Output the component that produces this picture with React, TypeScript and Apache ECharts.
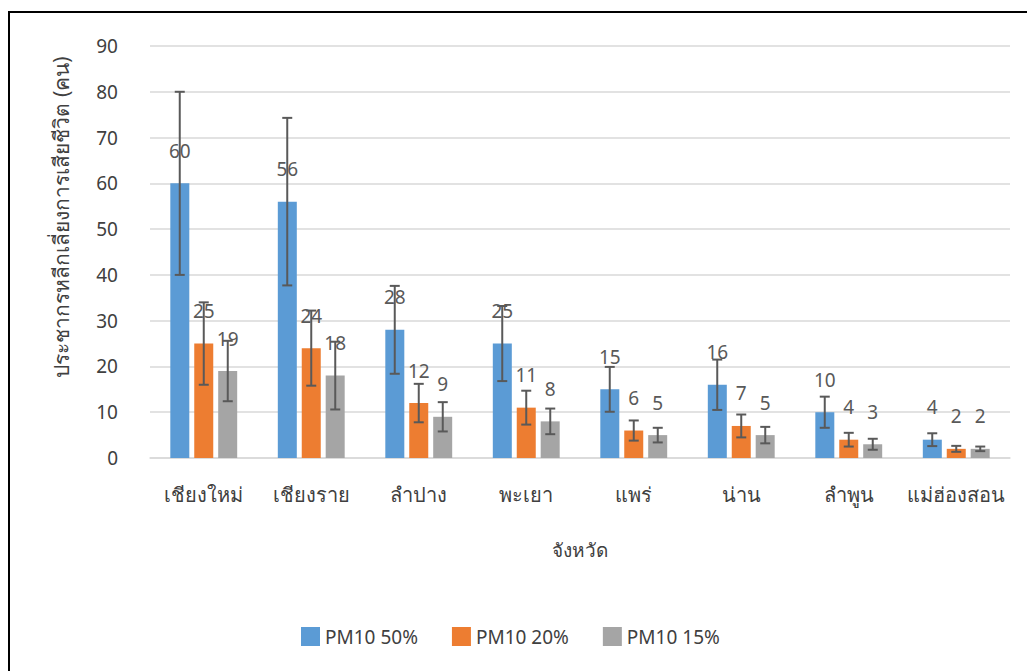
import React, { useEffect, useRef } from "react";
import * as echarts from "echarts";

const categories = ["เชียงใหม่", "เชียงราย", "ลำปาง", "พะเยา", "แพร่", "น่าน", "ลำพูน", "แม่ฮ่องสอน"];
const seriesNames = ["PM10 50%", "PM10 20%", "PM10 15%"];
const pm50 = [60, 56, 28, 25, 15, 16, 10, 4];
const pm20 = [25, 24, 12, 11, 6, 7, 4, 2];
const pm15 = [19, 18, 9, 8, 5, 5, 3, 2];
const err50 = [20, 18.3, 9.6, 8.2, 4.9, 5.5, 3.4, 1.4];
const err20 = [9, 8.2, 4.2, 3.7, 2.2, 2.5, 1.5, 0.65];
const err15 = [6.6, 7.4, 3.2, 2.8, 1.6, 1.8, 1.2, 0.5];
const colors = ["#5B9BD5", "#ED7D31", "#A5A5A5"];
const yTicks = [0, 10, 20, 30, 40, 50, 60, 70, 80, 90];
const yAxisTitle = "ประชากรหลีกเลี่ยงการเสียชีวิต (คน)";
const xAxisTitle = "จังหวัด";

const FONT = "'Noto Sans', sans-serif";

export default function App() {
  const ref = useRef<HTMLDivElement>(null);
  useEffect(() => {
    if (!ref.current) return;
    const chart = echarts.init(ref.current, undefined, { renderer: "svg" });
    const values = [pm50, pm20, pm15];
    const errs = [err50, err20, err15];
    const barW = 19;
    const step = 24;

    const barSeries = values.map((v, i) => ({
      name: seriesNames[i],
      type: "bar",
      data: v,
      barWidth: barW,
      barGap: "26%",
      itemStyle: { color: colors[i] },
      label: {
        show: true,
        position: "top",
        distance: 23,
        fontSize: 19,
        fontFamily: FONT,
        color: "#595959",
      },
      z: 2,
    }));

    const errSeries = values.map((v, i) => ({
      type: "custom",
      name: "err" + i,
      z: 5,
      data: v.map((val, k) => [k, val - errs[i][k], val + errs[i][k]]),
      encode: { x: 0, y: [1, 2] },
      renderItem: (params: any, api: any) => {
        const c = api.value(0);
        const lo = api.coord([c, api.value(1)]);
        const hi = api.coord([c, api.value(2)]);
        const x = lo[0] + (i - 1) * step;
        const hw = 5;
        const style = { stroke: "#595959", lineWidth: 2 };
        return {
          type: "group",
          children: [
            { type: "line", shape: { x1: x, y1: lo[1], x2: x, y2: hi[1] }, style },
            { type: "line", shape: { x1: x - hw, y1: hi[1], x2: x + hw, y2: hi[1] }, style },
            { type: "line", shape: { x1: x - hw, y1: lo[1], x2: x + hw, y2: lo[1] }, style },
          ],
        };
      },
      tooltip: { show: false },
    }));

    chart.setOption({
      animation: false,
      textStyle: { fontFamily: FONT },
      graphic: [
        {
          type: "rect",
          shape: { x: 9, y: 12, width: 1040, height: 680 },
          style: { fill: "none", stroke: "#000", lineWidth: 2 },
          z: 0,
        },
        {
          type: "text",
          x: 61,
          y: 217,
          rotation: Math.PI / 2,
          style: {
            text: yAxisTitle,
            fontSize: 21,
            fontFamily: FONT,
            fill: "#404040",
            align: "center",
            verticalAlign: "middle",
          },
        },
      ],
      grid: { left: 150, right: 17, top: 46, bottom: 213, containLabel: false },
      legend: {
        data: seriesNames,
        left: 296,
        top: 622,
        itemWidth: 19,
        itemHeight: 19,
        itemGap: 34,
        icon: "rect",
        textStyle: { fontSize: 19, color: "#404040", fontFamily: FONT },
      },
      xAxis: {
        type: "category",
        data: categories,
        name: xAxisTitle,
        nameLocation: "middle",
        nameGap: 82,
        nameTextStyle: { fontSize: 19, color: "#404040", fontFamily: FONT },
        axisLine: { show: true, lineStyle: { color: "#D9D9D9", width: 1.5 } },
        axisTick: { show: false },
        axisLabel: { interval: 0, fontSize: 20, color: "#404040", margin: 26, fontFamily: FONT },
      },
      yAxis: {
        type: "value",
        min: yTicks[0],
        max: yTicks[yTicks.length - 1],
        interval: 10,
        axisLine: { show: false },
        axisTick: { show: false },
        axisLabel: { fontSize: 19, color: "#404040", margin: 32, fontFamily: FONT },
        splitLine: { lineStyle: { color: "#D9D9D9", width: 1.5 } },
      },
      series: [...barSeries, ...errSeries],
    });
    return () => chart.dispose();
  }, []);
  return (
    <div
      ref={ref}
      style={{ position: "fixed", left: 0, top: 0, width: 1027, height: 671, background: "#fff" }}
    />
  );
}
